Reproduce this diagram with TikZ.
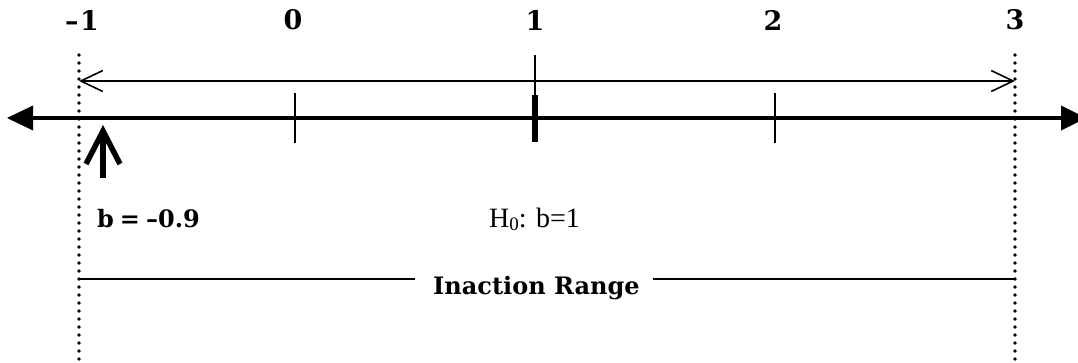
\documentclass[tikz,border=0pt]{standalone}
\usepackage{fontspec}
\newfontfamily\timesf{Liberation Serif}
\newfontfamily\boldserif{DejaVu Serif}
\usetikzlibrary{arrows.meta}
\tikzset{
  numlbl/.style={font=\fontsize{27}{30}\selectfont\boldserif\bfseries, inner sep=0pt},
  boldlbl/.style={font=\fontsize{24}{30}\selectfont\boldserif\bfseries, inner sep=0pt},
  plainlbl/.style={font=\fontsize{28}{32}\selectfont\timesf, inner sep=0pt},
  axisline/.style={line width=4.5pt},
  axishead/.style={fill=black},
  rangearrow/.style={line width=1.8pt, {Straight Barb[length=22pt,width=21pt,line width=1.6pt]}-{Straight Barb[length=22pt,width=21pt,line width=1.6pt]}},
  dotline/.style={line width=3.6pt, line cap=round, dash pattern=on 0pt off 8pt},
  thintick/.style={line width=2pt},
  thicktick/.style={line width=6pt},
  uparrow/.style={line width=5.5pt, miter limit=10},
  rangeline/.style={line width=2pt}
}
\begin{document}
\begin{tikzpicture}[x=1pt,y=-1pt]
\useasboundingbox (0,0) rectangle (1078,362);
\clip (0,0) rectangle (1078,362);
% coordinates
\coordinate (Ltip) at (7,118);
\coordinate (Lbase) at (33,118);
\coordinate (Rtip) at (1086,118);
\coordinate (Rbase) at (1061,118);
\coordinate (dLtop) at (79,55);
\coordinate (dLbot) at (79,364);
\coordinate (dRtop) at (1015,55);
\coordinate (dRbot) at (1015,364);
\coordinate (rL) at (79,81);
\coordinate (rR) at (1015,81);
\coordinate (t0a) at (295,93);
\coordinate (t0b) at (295,143);
\coordinate (t2a) at (775,93);
\coordinate (t2b) at (775,143);
\coordinate (t1a) at (535,95);
\coordinate (t1b) at (535,142);
\coordinate (t1top) at (535,55);
\coordinate (upTip) at (103,131);
\coordinate (upL) at (86,164);
\coordinate (upR) at (120,164);
\coordinate (upBot) at (103,178);
\coordinate (irL) at (78,279);
\coordinate (irR) at (1015,279);

% labels
\node[numlbl] (lm1) at (82,20) {–\hspace{0.05em}1};
\node[numlbl] (l0) at (293,20) {0};
\node[numlbl] (l1) at (535,20) {1};
\node[numlbl] (l2) at (773,20) {2};
\node[numlbl] (l3) at (1015,20) {3};
\node[boldlbl, anchor=base west] (bval) at (97,227) {b\hspace{0.25em}=\hspace{0.25em}–0.9};
\node[plainlbl, anchor=base west] (h0) at (489,227) {H\raisebox{-0.12em}{\fontsize{19}{20}\selectfont 0}: b=1};
\node[boldlbl, anchor=base west, inner xsep=0pt] (ir) at (433,294) {Inaction Range};

% dotted verticals
\draw[dotline] (dLtop) -- (dLbot);
\draw[dotline] (dRtop) -- (dRbot);

% main axis
\draw[axisline] (Lbase) -- (Rbase);
\fill[axishead] (Ltip) -- ([yshift=-12.5pt]Lbase) -- ([yshift=12.5pt]Lbase) -- cycle;
\fill[axishead] (Rtip) -- ([yshift=-12.5pt]Rbase) -- ([yshift=12.5pt]Rbase) -- cycle;

% range arrow
\draw[rangearrow] (rL) -- (rR);

% ticks
\draw[thintick] (t0a) -- (t0b);
\draw[thintick] (t2a) -- (t2b);
\draw[thintick] (t1top) -- (t1a);
\draw[thicktick] (t1a) -- (t1b);

% up arrow
\draw[uparrow] (upL) -- (upTip) -- (upR);
\draw[uparrow] (upTip) -- (upBot);

% inaction range line
\draw[rangeline] (irL) -- ([xshift=-18pt]ir.west |- irL);
\draw[rangeline] ([xshift=13pt]ir.east |- irR) -- (irR);
\end{tikzpicture}
\end{document}
